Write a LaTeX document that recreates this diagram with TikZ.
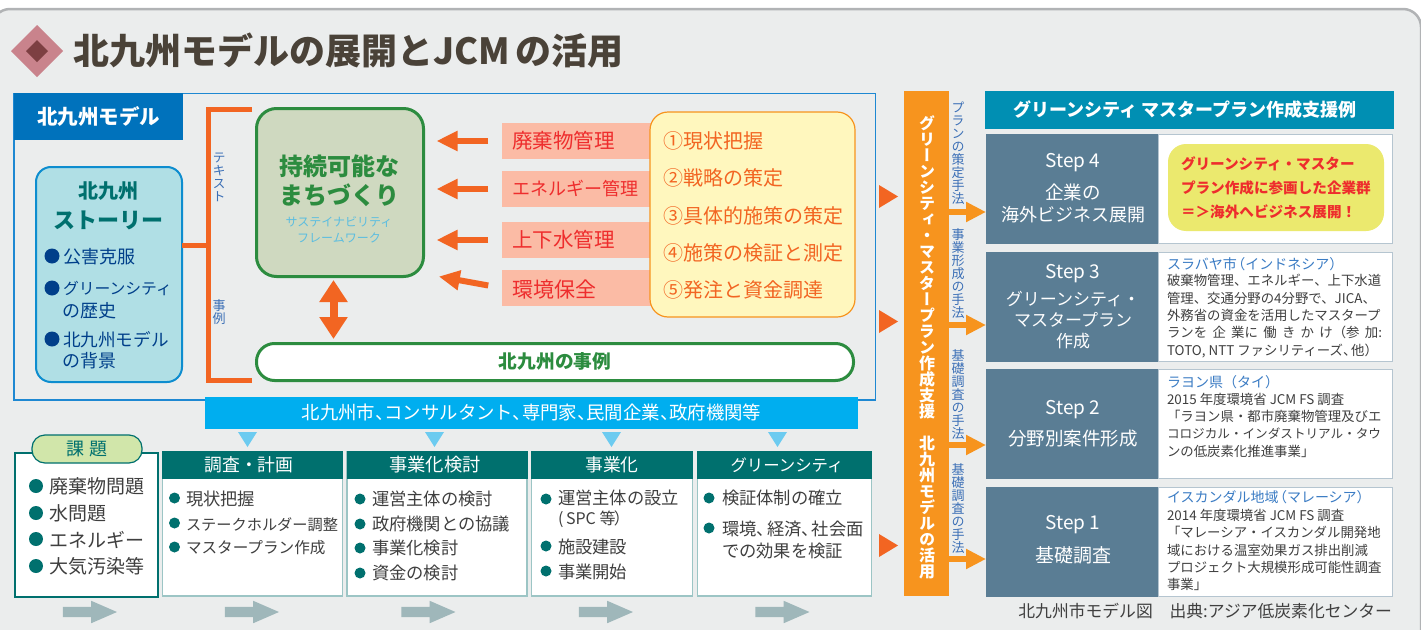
\documentclass[tikz,border=0pt]{standalone}
\usepackage{fontspec}
\setmainfont{Noto Sans CJK JP}
\newfontfamily\tatefont[RawFeature=+vert]{Noto Sans CJK JP}
\usetikzlibrary{arrows.meta,shapes.arrows}
\definecolor{bgc}{HTML}{EBEDED}
\definecolor{bgl}{HTML}{B1B3B5}
\definecolor{mblue}{HTML}{0072BC}
\definecolor{fblue}{HTML}{1E88D2}
\definecolor{oar}{HTML}{F26522}
\definecolor{ocol}{HTML}{F7941E}
\definecolor{gfill}{HTML}{CFD9C0}
\definecolor{gline}{HTML}{2C8C3F}
\definecolor{sfill}{HTML}{B0DFE5}
\definecolor{sline}{HTML}{0D8DCF}
\definecolor{teal1}{HTML}{00706E}
\definecolor{tline}{HTML}{9CC5C5}
\definecolor{nav}{HTML}{003F8A}
\definecolor{pink1}{HTML}{FBBBA5}
\definecolor{red1}{HTML}{EE2D2D}
\definecolor{yel1}{HTML}{FFF7BE}
\definecolor{yel2}{HTML}{EBE96E}
\definecolor{cyan1}{HTML}{00AEEF}
\definecolor{cyan2}{HTML}{6CCBF0}
\definecolor{cyan3}{HTML}{5BBDE0}
\definecolor{vblue}{HTML}{3B6FB6}
\definecolor{tblue}{HTML}{3B7CC4}
\definecolor{grayar}{HTML}{9FB7BA}
\definecolor{stepc}{HTML}{5A7D94}
\definecolor{stepl}{HTML}{B5C5D0}
\definecolor{hdr}{HTML}{008FB3}
\definecolor{ink}{HTML}{4A4238}
\definecolor{txt}{HTML}{3F3F3F}
\definecolor{dia1}{HTML}{C9838C}
\definecolor{dia2}{HTML}{7D3F42}
\definecolor{tagc}{HTML}{D1E6AA}
\newcommand\fs[1]{\fontsize{#1}{#1}\selectfont}
\makeatletter
\newcommand\tate[1]{\vbox{\lineskiplimit=-20pt\tatefont\@tfor\tatechar:=#1\do{\hbox to 1em{\hss\tatechar\hss}}}}
\makeatother
\tikzset{
every node/.style={inner sep=0pt,outer sep=0pt},
bracket/.style={draw=oar,line width=5pt},
bigarrow/.style={draw=oar,line width=6pt,-{Triangle[length=21pt,width=19pt]}},
dblarrow/.style={draw=oar,line width=8pt,{Triangle[length=22pt,width=27pt]}-{Triangle[length=22pt,width=27pt]}},
colarrow/.style={draw=ocol,line width=6pt,-{Triangle[length=20pt,width=19pt]}},
grayarrow/.style={single arrow,fill=grayar,inner sep=5pt,minimum width=22pt,minimum height=54pt,single arrow head extend=6pt,single arrow tip angle=47,single arrow head indent=0pt},
redbar/.style={fill=pink1,minimum width=160pt,minimum height=36pt},
redtext/.style={right,text=red1},
plan/.style={right,text=oar,font=\fs{20}},
head/.style={fill=teal1,text=white,font=\fs{17.8},minimum height=28pt},
body/.style={draw=tline,line width=1.5pt,fill=white},
dot/.style={circle,fill=teal1,minimum size=11pt},
bigdot/.style={circle,fill=teal1,minimum size=14pt},
navdot/.style={circle,fill=nav,minimum size=15pt},
item/.style={right,text=txt,font=\fs{17.3}},
stepbox/.style={fill=stepc,text=white,minimum width=172pt,minimum height=110pt},
stepbody/.style={draw=stepl,line width=1pt,fill=white,minimum width=234pt,minimum height=109pt},
steptext/.style={text=white,font=\fs{18.5}},
ttl/.style={right,text=tblue,font=\fs{14}},
note/.style={right,align=left,text=txt,font=\fontsize{13.4}{17.3}\selectfont},
side/.style={text=vblue,font=\fs{13}},
}
\begin{document}
\begin{tikzpicture}[>=latex,x=1pt,y=-1pt]
\useasboundingbox (0,0) rectangle (1421,629);
\draw[draw=bgl,fill=bgc,line width=2.5pt,rounded corners=18pt] (-8,9) rectangle (1421,650);
% title
\fill[dia1] (37,25)--(63,51)--(37,77)--(11,51)--cycle;
\fill[dia2] (37,40)--(48,51)--(37,62)--(26,51)--cycle;
\node (title) at (73,51)[right,text=ink,font=\fs{36}\bfseries]{北九州モデルの展開とJCM\,の活用};
% model frame
\node (frame) at (444.75,246.75)[draw=fblue,line width=1.4pt,minimum width=861.5pt,minimum height=306.5pt]{};
\node (mlabel) at (98.5,116.5)[fill=mblue,text=white,font=\fs{20.5}\bfseries,minimum width=169pt,minimum height=47pt]{北九州モデル};
% story
\node (story) at (109,274.5)[draw=sline,fill=sfill,line width=2pt,rounded corners=15pt,minimum width=146pt,minimum height=215pt]{};
\node (st1) at (108,191)[text=teal1,font=\fs{20}\bfseries]{北九州};
\node (st2) at (108,220)[text=teal1,font=\fs{22}\bfseries]{ストーリー};
\node (sd1) at (52,256)[navdot]{};
\node (st3) at (63,257)[right,text=nav,font=\fs{18}]{公害克服};
\node (sd2) at (52,288)[navdot]{};
\node (st4) at (63,288)[right,text=nav,font=\fs{15.8}]{グリーンシティ};
\node (st5) at (62,311)[right,text=nav,font=\fs{18}]{の歴史};
\node (sd3) at (52,339)[navdot]{};
\node (st6) at (63,340)[right,text=nav,font=\fs{17.6}]{北九州モデル};
\node (st7) at (62,361)[right,text=nav,font=\fs{18}]{の背景};
% bracket
\coordinate (jn) at (208,245);
\coordinate (bt) at (252,109.5);
\coordinate (bb) at (252,380.5);
\draw[bracket] (story.east |- jn)--(jn);
\draw[bracket] (bt) -| (jn) |- (bb);
\node (br1) at (219,177)[text=vblue,font=\fs{13}]{\tate{テキスト}};
\node (br2) at (219,312)[text=vblue,font=\fs{13}]{\tate{事例}};
% green boxes
\node (green) at (340,192.5)[draw=gline,fill=gfill,line width=3pt,rounded corners=20pt,minimum width=167pt,minimum height=168pt]{};
\node (gt1) at (339,166)[text=gline,font=\fs{24}\bfseries]{持続可能な};
\node (gt2) at (339,195)[text=gline,font=\fs{24}\bfseries]{まちづくり};
\node (gt3) at (339,222)[text=cyan3,font=\fs{12}]{サステイナビリティ};
\node (gt4) at (339,238)[text=cyan3,font=\fs{12}]{フレームワーク};
\node (example) at (555,362)[draw=gline,fill=white,line width=3pt,rounded corners=18pt,minimum width=597pt,minimum height=37pt]{};
\node (ext) at (555,361)[text=gline,font=\fs{18.7}\bfseries]{北九州の事例};
\coordinate (dt) at (333.5,280);
\coordinate (db) at (333.5,339);
\draw[dblarrow] (dt)--(db);
% red labels
\node (r1) at (582,141)[redbar]{};
\node (r2) at (582,189)[redbar]{};
\node (r3) at (582,240)[redbar]{};
\node (r4) at (582,288)[redbar]{};
\node (r1t) at (512,141)[redtext,font=\fs{20.5}]{廃棄物管理};
\node (r2t) at (512,189)[redtext,font=\fs{18}]{エネルギー管理};
\node (r3t) at (512,240)[redtext,font=\fs{20.5}]{上下水管理};
\node (r4t) at (512,289)[redtext,font=\fs{21}]{環境保全};
\coordinate (gc) at (425,274);
\draw[bigarrow,shorten <=14pt,shorten >=13pt] (r1.west)--(r1.west -| green.east);
\draw[bigarrow,shorten <=14pt,shorten >=13pt] (r2.west)--(r2.west -| green.east);
\draw[bigarrow,shorten <=14pt,shorten >=13pt] (r3.west)--(r3.west -| green.east);
\draw[bigarrow,shorten <=14pt,shorten >=14pt] (r4.west)--(gc);
% plan box
\node (plan) at (752.5,214.5)[draw=ocol,fill=yel1,line width=1.2pt,rounded corners=18pt,minimum width=205pt,minimum height=205pt]{};
\node (p1) at (663,141)[plan]{①現状把握};
\node (p2) at (663,178)[plan]{②戦略の策定};
\node (p3) at (663,216)[plan]{③具体的施策の策定};
\node (p4) at (663,253)[plan]{④施策の検証と測定};
\node (p5) at (663,290)[plan]{⑤発注と資金調達};
% actors
\node (actors) at (531.5,412.5)[fill=cyan1,text=white,font=\fs{18.4},minimum width=653pt,minimum height=32pt]{北九州市、\kern-.5emコンサルタント、\kern-.5em専門家、\kern-.5em民間企業、\kern-.5em政府機関等};
\fill[cyan2] (238,432)--(257,432)--(247.5,447)--cycle;
\fill[cyan2] (425,432)--(444,432)--(434.5,447)--cycle;
\fill[cyan2] (602,432)--(621,432)--(611.5,447)--cycle;
\fill[cyan2] (768,432)--(787,432)--(777.5,447)--cycle;
% issues
\node (issue) at (86,524.5)[draw=teal1,fill=white,line width=2pt,minimum width=143pt,minimum height=144pt]{};
\node (tag) at (87,449)[draw=teal1,fill=tagc,line width=1.2pt,rounded corners=13pt,minimum width=110pt,minimum height=28pt,text=teal1,font=\fs{18}]{課\,\,題};
\node (i1d) at (36,486)[bigdot]{};
\node (i1) at (49,486)[right,text=txt,font=\fs{19}]{廃棄物問題};
\node (i2d) at (36,513)[bigdot]{};
\node (i2) at (49,513)[right,text=txt,font=\fs{19}]{水問題};
\node (i3d) at (36,539)[bigdot]{};
\node (i3) at (49,540)[right,text=txt,font=\fs{19}]{エネルギー};
\node (i4d) at (36,566)[bigdot]{};
\node (i4) at (49,566)[right,text=txt,font=\fs{19}]{大気汚染等};
% columns
\node (c1b) at (252.5,524)[body,minimum width=180pt,minimum height=144pt]{};
\node (c1h) at (252.5,465)[head,minimum width=181pt]{\hspace*{-7pt}調査・計画};
\node (c2b) at (437,524)[body,minimum width=180pt,minimum height=144pt]{};
\node (c2h) at (437,465)[head,minimum width=181pt,font=\fs{18.3}]{\hspace*{-4pt}事業化検討};
\node (c3b) at (612,524)[body,minimum width=161pt,minimum height=144pt]{};
\node (c3h) at (612,465)[head,minimum width=162pt]{事業化};
\node (c4b) at (784.5,524)[body,minimum width=174pt,minimum height=144pt]{};
\node (c4h) at (784.5,465)[head,minimum width=175pt,font=\fs{16.4}]{\hspace*{5pt}グリーンシティ};
\node (d11) at (174.5,498)[dot]{};
\node (t11) at (186,499)[item]{現状把握};
\node (d12) at (174.5,523)[dot]{};
\node (t12) at (186,525)[item,font=\fs{15.2}]{ステークホルダー調整};
\node (d13) at (174.5,547)[dot]{};
\node (t13) at (186,548)[item,font=\fs{15.6}]{マスタープラン作成};
\node (d21) at (360,499)[dot]{};
\node (t21) at (372,499)[item]{運営主体の検討};
\node (d22) at (360,524)[dot]{};
\node (t22) at (372,524)[item]{政府機関との協議};
\node (d23) at (360,548)[dot]{};
\node (t23) at (372,548)[item]{事業化検討};
\node (d24) at (360,573)[dot]{};
\node (t24) at (372,573)[item]{資金の検討};
\node (d31) at (546,499)[dot]{};
\node (t31) at (558,498)[item]{運営主体の設立};
\node (t32) at (558,519)[item,font=\fs{16}]{(\,SPC 等\kern-.1em）};
\node (d33) at (546,546)[dot]{};
\node (t33) at (558,547)[item]{施設建設};
\node (d34) at (546,571)[dot]{};
\node (t34) at (558,572)[item]{事業開始};
\node (d41) at (709,498)[dot]{};
\node (t41) at (722,498)[item]{検証体制の確立};
\node (d42) at (709,528)[dot]{};
\node (t42) at (722,529)[item]{環境、\kern-.4em経済、\kern-.4em社会面};
\node (t43) at (722,551)[item]{での効果を検証};
\node (g1) at (84,612)[grayarrow]{};
\node (g2) at (246,612)[grayarrow]{};
\node (g3) at (422.5,612)[grayarrow]{};
\node (g4) at (600,612)[grayarrow]{};
\node (g5) at (776.5,612)[grayarrow]{};
% support column
\fill[oar] (879,185)--(898,196.5)--(879,208)--cycle;
\fill[oar] (879,310)--(898,321.5)--(879,333)--cycle;
\fill[oar] (879,534)--(898,545.5)--(879,557)--cycle;
\node (col) at (926.5,343.5)[fill=ocol,minimum width=45pt,minimum height=505pt]{};
\node (colt) at (927,347)[text=white,font=\fs{16}\bfseries]{\tate{グリーンシティ・マスタープラン作成支援　北九州モデルの活用}};
\node (s1) at (958,153)[side]{\tate{プランの策定手法}};
\node (s2) at (958,274)[side]{\tate{事業形成の手法}};
\node (s3) at (958,395)[side]{\tate{基礎調査の手法}};
\node (s4) at (958,509)[side]{\tate{基礎調査の手法}};
% steps
\node (rhead) at (1189.5,110)[fill=hdr,text=white,font=\fs{18}\bfseries,minimum width=409pt,minimum height=38pt]{\hspace*{-9pt}グリーンシティ マスタープラン作成支援例};
\node (b4) at (1275,188.5)[stepbody]{};
\node (b3) at (1275,307)[stepbody]{};
\node (b2) at (1275,424)[stepbody]{};
\node (b1) at (1275,542)[stepbody]{};
\node (st4b) at (1072,188.5)[stepbox]{};
\node (st3b) at (1072,307)[stepbox]{};
\node (st2b) at (1072,424)[stepbox]{};
\node (st1b) at (1072,542)[stepbox]{};
\coordinate (a4) at (949,212);
\coordinate (a3) at (949,325);
\coordinate (a2) at (949,445);
\coordinate (a1) at (949,559);
\draw[colarrow] (a4)--(a4 -| st4b.west);
\draw[colarrow] (a3)--(a3 -| st3b.west);
\draw[colarrow] (a2)--(a2 -| st2b.west);
\draw[colarrow] (a1)--(a1 -| st1b.west);
\node (l41) at (1073,163)[steptext,font=\fs{19}]{Step 4};
\node (l42) at (1073,192)[steptext]{企業の};
\node (l43) at (1073,215)[steptext,font=\fs{18}]{海外ビジネス展開};
\node (l31) at (1073,274)[steptext,font=\fs{19}]{Step 3};
\node (l32) at (1073,299)[steptext,font=\fs{17}]{グリーンシティ・};
\node (l33) at (1073,320)[steptext,font=\fs{17}]{マスタープラン};
\node (l34) at (1073,341)[steptext,font=\fs{17}]{作成};
\node (l21) at (1073,410)[steptext,font=\fs{19}]{Step 2};
\node (l22) at (1073,439)[steptext]{分野別案件形成};
\node (l11) at (1073,525)[steptext,font=\fs{19}]{Step 1};
\node (l12) at (1073,555)[steptext,font=\fs{19}]{基礎調査};
\node (pill) at (1276,187.5)[fill=yel2,rounded corners=18pt,minimum width=216pt,minimum height=87pt]{};
\node (pl1) at (1181,164)[right,text=red1,font=\fs{14.6}\bfseries]{グリーンシティ・マスター};
\node (pl2) at (1181,188)[right,text=red1,font=\fs{14.6}\bfseries]{プラン作成に参画した企業群};
\node (pl3) at (1181,212)[right,text=red1,font=\fs{14.6}\bfseries]{＝＞海外へビジネス展開！};
\node (n3t) at (1167,264)[ttl]{スラバヤ市\kern-.4em（インドネシア）};
\node (n3) at (1167,316)[note]{破棄物管理、エネルギー、上下水道\\管理、交通分野の4分野で、JICA、\\外務省の資金を活用したマスタープ\\\hbox to 215pt{ランを 企 業に 働 き か け \kern-.4em（参 加:}\\TOTO, NTT ファシリティーズ、\kern-.4em他）};
\node (n2t) at (1167,382)[ttl]{ラヨン県（タイ）};
\node (n2) at (1167,425)[note]{2015 年度環境省 JCM FS 調査\\「ラヨン県・都市廃棄物管理及びエ\\{\fontsize{12.6}{17.3}\selectfont コロジカル・インダストリアル・タウ}\\ンの低炭素化推進事業」};
\node (n1t) at (1167,497)[ttl]{イスカンダル地域\kern-.4em（マレーシア）};
\node (n1) at (1167,550)[note]{2014 年度環境省 JCM FS 調査\\「マレーシア・イスカンダル開発地\\域における温室効果ガス排出削減\\プロジェクト大規模形成可能性調査\\事業」};
\node (cap) at (1392,611)[left,text=txt,font=\fs{16.8}]{北九州市モデル図\quad 出典:アジア低炭素化センター};
\end{tikzpicture}
\end{document}
